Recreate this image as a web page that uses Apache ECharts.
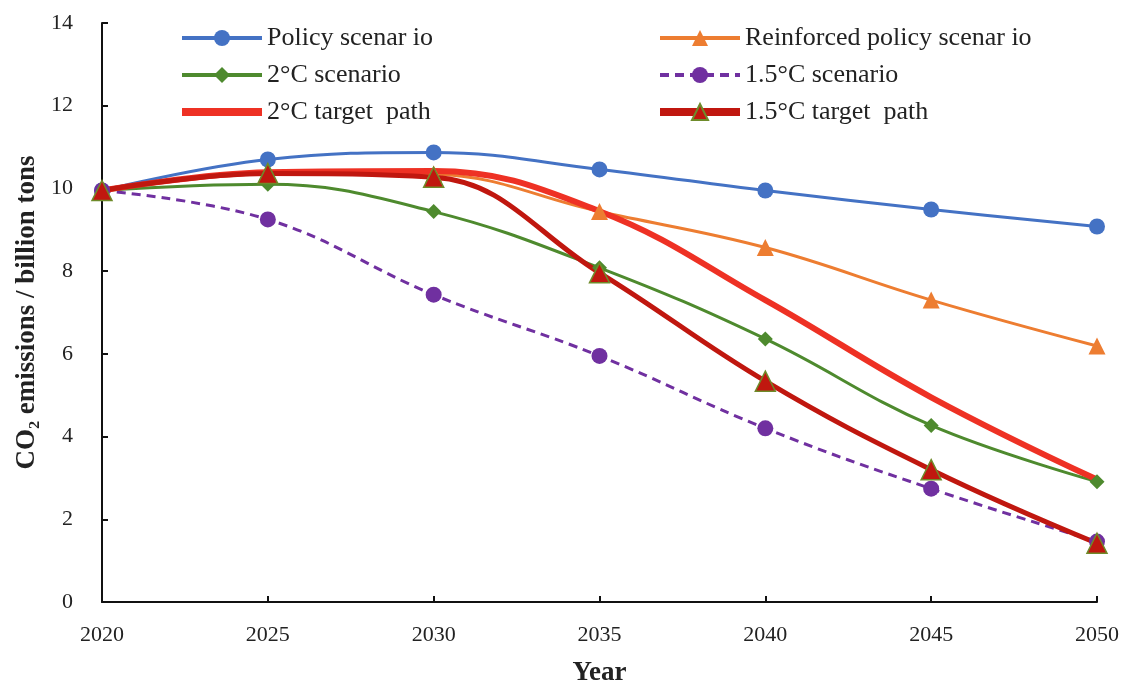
<!DOCTYPE html>
<html>
<head>
<meta charset="utf-8">
<script src="https://cdn.jsdelivr.net/npm/echarts@6/dist/echarts.min.js"></script>
<style>
  html, body { margin: 0; padding: 0; background: #fff; }
  #chart { width: 1126px; height: 685px; }
</style>
</head>
<body>
<div id="chart"></div>
<script>
// CO2 emission pathways, 2020-2050 (billion tons)
const years = [2020, 2025, 2030, 2035, 2040, 2045, 2050];

const policyScenario     = [9.95, 10.70, 10.87, 10.46, 9.95, 9.49, 9.08];
const reinforcedScenario = [9.95, 10.40, 10.35, 9.44, 8.57, 7.30, 6.19];
const twoDegScenario     = [9.95, 10.10, 9.44, 8.08, 6.36, 4.27, 2.91];
const onePointFiveScen   = [9.95, 9.25, 7.43, 5.95, 4.20, 2.74, 1.46];
const twoDegTarget       = [9.95, 10.39, 10.42, 9.45, 7.30, 4.95, 2.96];
const onePointFiveTarget = [9.95, 10.36, 10.27, 7.96, 5.34, 3.20, 1.42];

const seriesNames = [
  'Policy scenar io',
  'Reinforced policy scenar io',
  '2°C scenario',
  '1.5°C scenario',
  '2°C target  path',
  '1.5°C target  path'
];

const yTicks = [0, 2, 4, 6, 8, 10, 12, 14];

const pair = arr => years.map((y, i) => [y, arr[i]]);
const serif = '"Liberation Serif", "DejaVu Serif", serif';

const chart = echarts.init(document.getElementById('chart'), null, { renderer: 'canvas' });

const legendBase = {
  orient: 'vertical', top: 25, padding: 0,
  itemWidth: 80, itemHeight: 20, itemGap: 11,
  lineStyle: { width: 4 },
  textStyle: { fontFamily: serif, fontSize: 26, color: '#222' }
};
// thick bar icon for the line-only target path
const barIcon = 'path://M0,0 L80,0 L80,8 L0,8 Z';

chart.setOption({
  animation: false,
  backgroundColor: '#fff',
  grid: { left: 102, right: 29, top: 23, bottom: 83, outerBoundsMode: 'none' },
  legend: [
    Object.assign({}, legendBase, {
      left: 180,
      data: [
        seriesNames[0],
        seriesNames[2],
        { name: seriesNames[4], icon: barIcon, itemStyle: { color: '#EE3124' } }
      ]
    }),
    Object.assign({}, legendBase, {
      left: 656,
      data: [
        seriesNames[1],
        seriesNames[3],
        { name: seriesNames[5], lineStyle: { width: 8 } }
      ]
    })
  ],
  xAxis: {
    type: 'value', min: 2020, max: 2050, interval: 5,
    name: 'Year', nameLocation: 'middle', nameGap: 58,
    nameTextStyle: { fontFamily: serif, fontSize: 27, fontWeight: 'bold', color: '#222' },
    axisLine: { lineStyle: { color: '#111', width: 2 } },
    axisTick: { inside: true, length: 6, lineStyle: { color: '#111', width: 2 } },
    axisLabel: { fontFamily: serif, fontSize: 22, color: '#222', margin: 22, formatter: v => String(v) },
    splitLine: { show: false }
  },
  yAxis: {
    type: 'value', min: 0, max: 14, interval: 2,
    name: 'CO₂ emissions / billion tons', nameLocation: 'middle', nameGap: 58,
    nameTextStyle: { fontFamily: serif, fontSize: 27, fontWeight: 'bold', color: '#222' },
    axisLine: { show: true, lineStyle: { color: '#111', width: 2 } },
    axisTick: { show: true, inside: true, length: 6, lineStyle: { color: '#111', width: 2 } },
    axisLabel: { fontFamily: serif, fontSize: 22, color: '#222', margin: 29,
      formatter: v => yTicks.includes(v) ? String(v) : '' },
    splitLine: { show: false }
  },
  series: [
    {
      name: seriesNames[0], type: 'line', smooth: 0.4, data: pair(policyScenario),
      symbol: 'circle', symbolSize: 16,
      lineStyle: { color: '#4472C4', width: 3 },
      itemStyle: { color: '#4472C4' }
    },
    {
      name: seriesNames[1], type: 'line', smooth: 0.4, data: pair(reinforcedScenario),
      symbol: 'triangle', symbolSize: 17,
      lineStyle: { color: '#ED7D31', width: 3 },
      itemStyle: { color: '#ED7D31' }
    },
    {
      name: seriesNames[2], type: 'line', smooth: 0.4, data: pair(twoDegScenario),
      symbol: 'diamond', symbolSize: 15,
      lineStyle: { color: '#4E8A2E', width: 3 },
      itemStyle: { color: '#4E8A2E' }
    },
    {
      name: seriesNames[3], type: 'line', smooth: 0.4, data: pair(onePointFiveScen),
      symbol: 'circle', symbolSize: 16,
      lineStyle: { color: '#7030A0', width: 3, type: [9, 6] },
      itemStyle: { color: '#7030A0' }
    },
    {
      name: seriesNames[4], type: 'line', smooth: 0.4, data: pair(twoDegTarget),
      symbol: 'none', showSymbol: false,
      lineStyle: { color: '#EE3124', width: 6 },
      itemStyle: { color: '#EE3124' }
    },
    {
      name: seriesNames[5], type: 'line', smooth: 0.4, data: pair(onePointFiveTarget),
      symbol: 'triangle', symbolSize: 20,
      lineStyle: { color: '#C0170F', width: 5 },
      itemStyle: { color: '#C0170F', borderColor: '#6E8B2A', borderWidth: 1.5 }
    }
  ]
});
</script>
</body>
</html>
